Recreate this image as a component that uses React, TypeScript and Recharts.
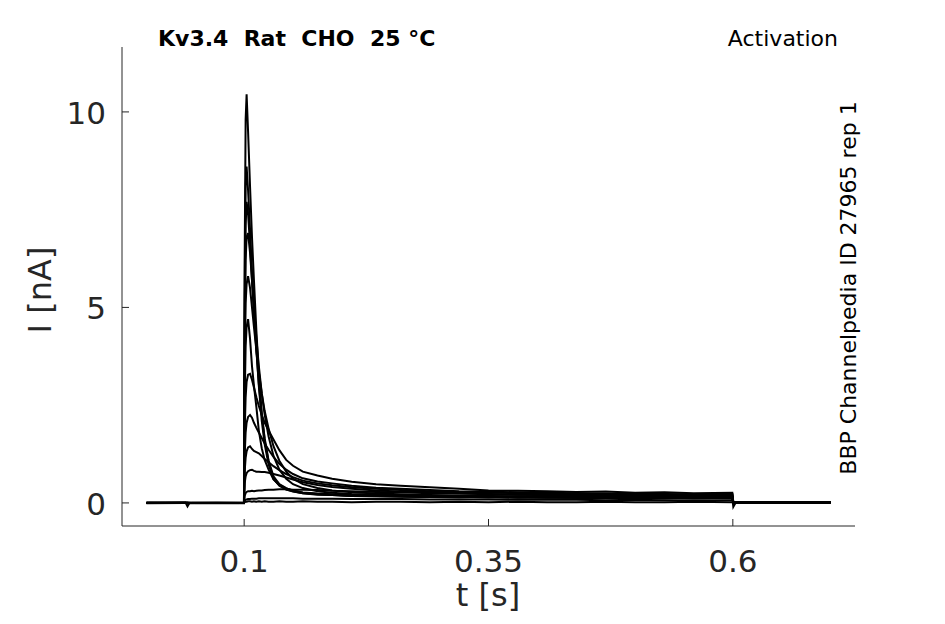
import React from "react";
import { LineChart, Line, XAxis, YAxis } from "recharts";

// sample times [s], dense around the step onset at 0.1 s
const TIME = [
  0, 0.04, 0.042, 0.044, 0.0998,
  0.1005, 0.1015, 0.1025, 0.104, 0.106, 0.108, 0.11, 0.1125, 0.115, 0.118,
  0.121, 0.125, 0.13, 0.136, 0.143, 0.15, 0.16, 0.175, 0.19, 0.21,
  0.235, 0.26, 0.29, 0.32, 0.35, 0.38, 0.41, 0.44, 0.47, 0.5,
  0.53, 0.56, 0.5995,
  0.6005, 0.603, 0.62, 0.66, 0.7,
];

// current traces [nA], one per voltage step
const I_STEP_1 = [0, 0.01, -0.09, 0, 0,
  6.2, 9.8, 10.45, 9.5, 8.1, 6.8, 5.7, 4.4, 3.3, 2.3, 1.6, 1.05, 0.62, 0.44, 0.34, 0.29, 0.25, 0.21, 0.2, 0.18, 0.17, 0.16, 0.15, 0.16, 0.14, 0.15, 0.13, 0.14, 0.13, 0.12, 0.14, 0.12, 0.13,
  -0.1, 0.01, 0.02, 0.01, 0.02];
const I_STEP_2 = [0.01, 0, 0.01, 0, 0.01,
  5.3, 8.1, 8.6, 8.0, 7.0, 5.9, 5.0, 3.95, 3.0, 2.1, 1.5, 0.98, 0.62, 0.45, 0.35, 0.3, 0.25, 0.22, 0.2, 0.18, 0.17, 0.17, 0.15, 0.14, 0.15, 0.13, 0.14, 0.13, 0.12, 0.13, 0.12, 0.13, 0.12,
  0, 0.02, 0.01, 0.02, 0.01];
const I_STEP_3 = [0, 0, 0, 0.01, 0,
  4.6, 7.1, 7.7, 7.4, 6.6, 5.7, 4.85, 3.9, 3.05, 2.25, 1.65, 1.08, 0.68, 0.48, 0.38, 0.31, 0.26, 0.23, 0.21, 0.19, 0.18, 0.17, 0.16, 0.15, 0.16, 0.14, 0.15, 0.13, 0.14, 0.13, 0.12, 0.14, 0.13,
  0.01, 0.02, 0.02, 0.01, 0.02];
const I_STEP_4 = [-0.01, 0, 0, 0, -0.01,
  4.0, 6.2, 6.8, 6.9, 6.4, 5.7, 5.0, 4.2, 3.5, 2.8, 2.25, 1.7, 1.2, 0.85, 0.62, 0.48, 0.38, 0.3, 0.26, 0.23, 0.21, 0.2, 0.18, 0.17, 0.16, 0.17, 0.15, 0.16, 0.14, 0.15, 0.14, 0.13, 0.15,
  0, 0.01, 0.02, 0.02, 0.01];
const I_STEP_5 = [0, 0.01, 0, 0, 0,
  3.3, 5.1, 5.6, 5.8, 5.5, 5.0, 4.5, 3.9, 3.35, 2.8, 2.35, 1.9, 1.45, 1.08, 0.8, 0.62, 0.48, 0.38, 0.32, 0.27, 0.24, 0.22, 0.2, 0.19, 0.18, 0.17, 0.18, 0.16, 0.17, 0.15, 0.16, 0.15, 0.14,
  0.01, 0.02, 0.01, 0.02, 0.02];
const I_STEP_6 = [0, 0, 0.01, 0, 0,
  2.6, 4.0, 4.5, 4.7, 4.2, 3.5, 3.0, 2.45, 1.85, 1.4, 1.1, 0.85, 0.6, 0.46, 0.37, 0.32, 0.27, 0.24, 0.22, 0.2, 0.19, 0.18, 0.17, 0.16, 0.17, 0.15, 0.16, 0.14, 0.15, 0.14, 0.13, 0.14, 0.13,
  0.02, 0.01, 0.02, 0.01, 0.02];
const I_STEP_7 = [0, 0, 0, -0.01, 0,
  1.8, 2.7, 3.1, 3.28, 3.3, 3.15, 2.95, 2.7, 2.48, 2.25, 2.05, 1.85, 1.62, 1.35, 1.1, 0.95, 0.8, 0.7, 0.62, 0.54, 0.48, 0.44, 0.4, 0.36, 0.32, 0.31, 0.3, 0.28, 0.29, 0.26, 0.27, 0.25, 0.26,
  0.02, 0.02, 0.01, 0.02, 0.01];
const I_STEP_8 = [0.01, 0, 0, 0, 0.01,
  1.2, 1.8, 2.05, 2.2, 2.25, 2.18, 2.05, 1.92, 1.8, 1.66, 1.52, 1.36, 1.18, 1.0, 0.85, 0.74, 0.63, 0.55, 0.5, 0.44, 0.39, 0.36, 0.33, 0.3, 0.29, 0.27, 0.26, 0.25, 0.24, 0.25, 0.23, 0.22, 0.23,
  0.01, 0.02, 0.01, 0.01, 0.02];
const I_STEP_9 = [0, 0, 0, 0, 0,
  0.8, 1.15, 1.32, 1.42, 1.45, 1.38, 1.33, 1.3, 1.27, 1.2, 1.12, 1.04, 0.94, 0.84, 0.74, 0.66, 0.57, 0.5, 0.45, 0.4, 0.36, 0.33, 0.3, 0.28, 0.27, 0.25, 0.24, 0.23, 0.22, 0.23, 0.21, 0.2, 0.21,
  0.01, 0.01, 0.02, 0.02, 0.01];
const I_STEP_10 = [0, 0.01, 0, 0, 0,
  0.5, 0.68, 0.76, 0.81, 0.84, 0.85, 0.82, 0.8, 0.8, 0.79, 0.79, 0.77, 0.74, 0.7, 0.65, 0.6, 0.53, 0.46, 0.41, 0.36, 0.32, 0.29, 0.27, 0.25, 0.23, 0.22, 0.21, 0.2, 0.19, 0.2, 0.18, 0.17, 0.18,
  0, 0.01, 0.02, 0.01, 0.01];
const I_STEP_11 = [0, 0, 0, 0, 0,
  0.18, 0.25, 0.28, 0.3, 0.3, 0.31, 0.3, 0.31, 0.32, 0.32, 0.33, 0.34, 0.34, 0.35, 0.35, 0.34, 0.34, 0.33, 0.31, 0.3, 0.28, 0.27, 0.25, 0.24, 0.22, 0.21, 0.2, 0.19, 0.19, 0.18, 0.17, 0.17, 0.16,
  0.01, 0.01, 0.01, 0.02, 0.01];
const I_STEP_12 = [0, 0, 0, 0, 0,
  0.05, 0.08, 0.09, 0.1, 0.1, 0.11, 0.11, 0.11, 0.12, 0.12, 0.12, 0.12, 0.12, 0.12, 0.12, 0.12, 0.11, 0.11, 0.11, 0.1, 0.1, 0.1, 0.09, 0.09, 0.09, 0.08, 0.08, 0.08, 0.07, 0.08, 0.07, 0.07, 0.07,
  0.01, 0.01, 0.01, 0.01, 0.01];
const I_STEP_13 = [0, 0, 0, 0, 0,
  0.02, 0.03, 0.03, 0.04, 0.04, 0.03, 0.04, 0.03, 0.04, 0.03, 0.04, 0.03, 0.03, 0.04, 0.03, 0.03, 0.04, 0.03, 0.03, 0.02, 0.03, 0.03, 0.02, 0.03, 0.02, 0.03, 0.02, 0.02, 0.03, 0.02, 0.02, 0.03, 0.02,
  0.01, 0.01, 0.01, 0.01, 0.01];

const TRACES = [
  I_STEP_1, I_STEP_2, I_STEP_3, I_STEP_4, I_STEP_5, I_STEP_6, I_STEP_7,
  I_STEP_8, I_STEP_9, I_STEP_10, I_STEP_11, I_STEP_12, I_STEP_13,
];

const X_TICKS = [0.1, 0.35, 0.6];
const Y_TICKS = [0, 5, 10];

const AXIS_COLOR = "#262626";
const FONT = "'DejaVu Sans', sans-serif";

const rows = TIME.map((t, i) => {
  const row: Record<string, number> = { t };
  TRACES.forEach((trace, k) => {
    row["s" + k] = trace[i];
  });
  return row;
});

const XTick = (props: any) => {
  const { x, y, payload } = props;
  return (
    <g>
      <line x1={x} x2={x} y1={y} y2={y - 7} stroke={AXIS_COLOR} strokeWidth={1} />
      <text x={x} y={y + 46} textAnchor="middle" fontSize={31} fontFamily={FONT} fill={AXIS_COLOR}>
        {String(payload.value)}
      </text>
    </g>
  );
};

const YTick = (props: any) => {
  const { x, y, payload } = props;
  return (
    <g>
      <line x1={x} x2={x + 7} y1={y} y2={y} stroke={AXIS_COLOR} strokeWidth={1} />
      <text x={x - 16} y={y + 12} textAnchor="end" fontSize={31} fontFamily={FONT} fill={AXIS_COLOR}>
        {String(payload.value)}
      </text>
    </g>
  );
};

export default function App() {
  return (
    <div style={{ position: "absolute", left: 0, top: 0, width: 945, height: 624, background: "#fff" }}>
      <LineChart
        width={945}
        height={624}
        data={rows}
        margin={{ top: 47, right: 90, bottom: 0, left: 0 }}
      >
        <XAxis
          dataKey="t"
          type="number"
          domain={[-0.025, 0.725]}
          ticks={X_TICKS}
          allowDataOverflow
          height={98}
          tickSize={0}
          tickMargin={0}
          tickLine={false}
          axisLine={{ stroke: AXIS_COLOR, strokeWidth: 1 }}
          tick={<XTick />}
        />
        <YAxis
          type="number"
          domain={[-0.59, 11.66]}
          ticks={Y_TICKS}
          allowDataOverflow
          width={122}
          tickSize={0}
          tickMargin={0}
          tickLine={false}
          axisLine={{ stroke: AXIS_COLOR, strokeWidth: 1 }}
          tick={<YTick />}
        />
        {TRACES.map((_, k) => (
          <Line
            key={k}
            dataKey={"s" + k}
            type="linear"
            stroke="#000"
            strokeWidth={2}
            dot={false}
            activeDot={false}
            isAnimationActive={false}
          />
        ))}
      </LineChart>
      <svg
        width={945}
        height={624}
        style={{ position: "absolute", left: 0, top: 0, pointerEvents: "none" }}
      >
        <text x={158} y={46} fontSize={22} fontWeight="bold" fontFamily={FONT} fill="#000" style={{ whiteSpace: "pre" }}>
          {"Kv3.4  Rat  CHO  25 °C"}
        </text>
        <text x={838} y={46} fontSize={22} textAnchor="end" fontFamily={FONT} fill="#000">
          Activation
        </text>
        <text
          x={856}
          y={288}
          fontSize={22}
          textAnchor="middle"
          fontFamily={FONT}
          fill="#000"
          transform="rotate(-90 856 288)"
        >
          BBP Channelpedia ID 27965 rep 1
        </text>
        <text x={488} y={606} fontSize={32} textAnchor="middle" fontFamily={FONT} fill={AXIS_COLOR}>
          t [s]
        </text>
        <text
          x={51}
          y={290}
          fontSize={32}
          textAnchor="middle"
          fontFamily={FONT}
          fill={AXIS_COLOR}
          transform="rotate(-90 51 290)"
        >
          I [nA]
        </text>
      </svg>
    </div>
  );
}
